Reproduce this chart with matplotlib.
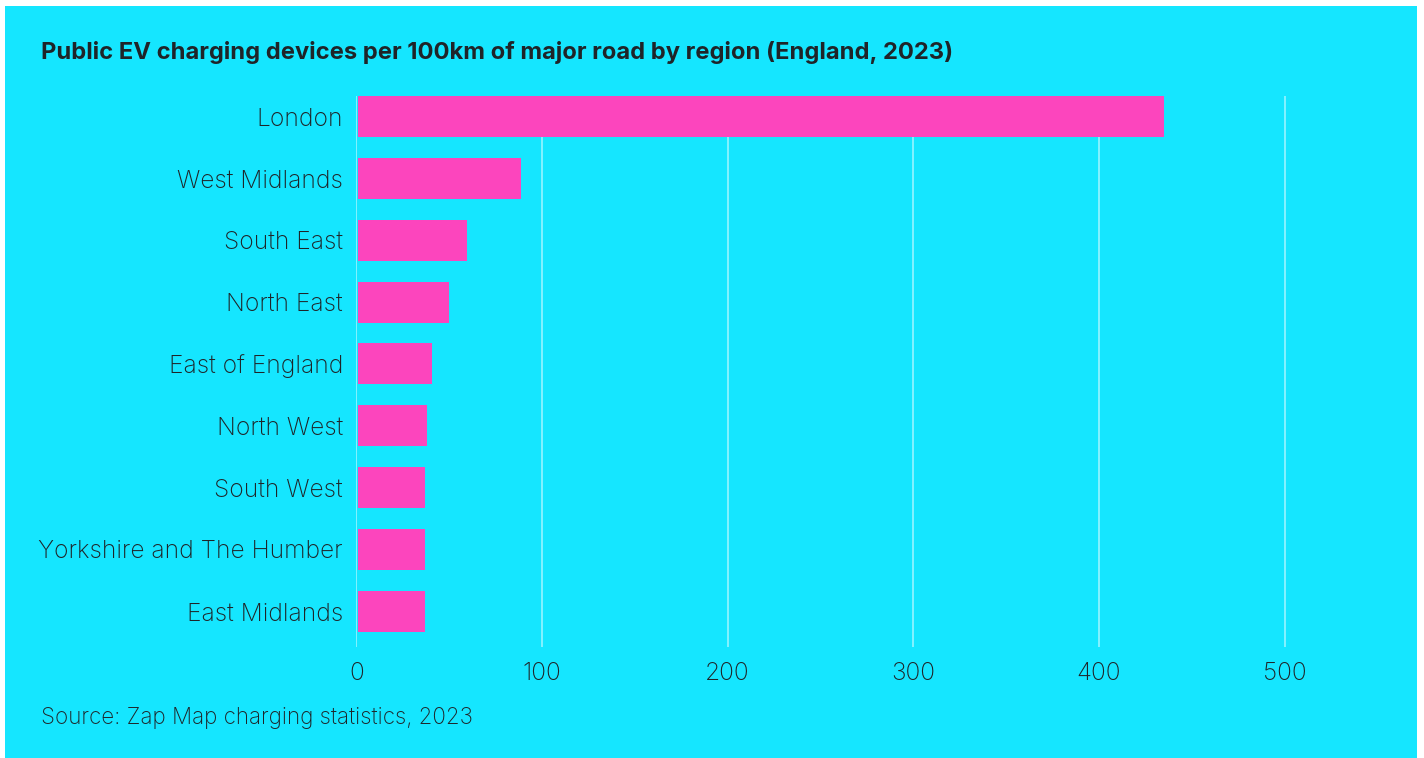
import matplotlib.pyplot as plt
from matplotlib.patches import Rectangle

regions = ['London', 'West Midlands', 'South East', 'North East',
           'East of England', 'North West', 'South West',
           'Yorkshire and The Humber', 'East Midlands']
devices = [434, 88, 59, 49, 40, 37.5, 36, 36, 36]

TITLE = 'Public EV charging devices per 100km of major road by region (England, 2023)'
SOURCE = 'Source: Zap Map charging statistics, 2023'

BG = '#15e6ff'
PINK = '#fc45bd'
INK = '#1f2428'

plt.rcParams['font.family'] = ['Inter', 'DejaVu Sans']

fig = plt.figure(figsize=(14.24, 7.58), dpi=100, facecolor='white')
# cyan panel with thin white margin
fig.patches.append(Rectangle((5 / 1424, 0), 1412 / 1424, 1 - 6 / 758,
                             transform=fig.transFigure, facecolor=BG,
                             edgecolor='none', zorder=-1))

ax = fig.add_axes([0.2502, 0.1468, 0.7301, 0.7265])
ax.set_facecolor('none')

y = list(range(len(regions)))
ax.barh(y, devices, height=0.663, color=PINK, left=0.8, zorder=2)

ax.set_xlim(0, 560)
ax.set_ylim(8.572, -0.3315)
ax.set_xticks([0, 100, 200, 300, 400, 500])
ax.set_yticks(y)
ax.set_yticklabels(regions)
ax.grid(axis='x', color='white', alpha=0.6, linewidth=1.1, zorder=1)
ax.grid(axis='y', visible=False)
for s in ax.spines.values():
    s.set_visible(False)
ax.tick_params(axis='both', length=0, labelsize=17.7, labelcolor=INK)
ax.tick_params(axis='y', pad=9.5)
ax.tick_params(axis='x', pad=11)
for lab in ax.get_yticklabels() + ax.get_xticklabels():
    lab.set_fontweight('light')

fig.text(41 / 1424, 1 - 59.5 / 758, TITLE, fontsize=17.1, fontweight='bold',
         color=INK, ha='left', va='baseline')
fig.text(41 / 1424, 1 - 724.3 / 758, SOURCE, fontsize=16.1,
         fontweight='light', color=INK, ha='left', va='baseline')

fig.savefig('out.png', dpi=100, facecolor=fig.get_facecolor())
